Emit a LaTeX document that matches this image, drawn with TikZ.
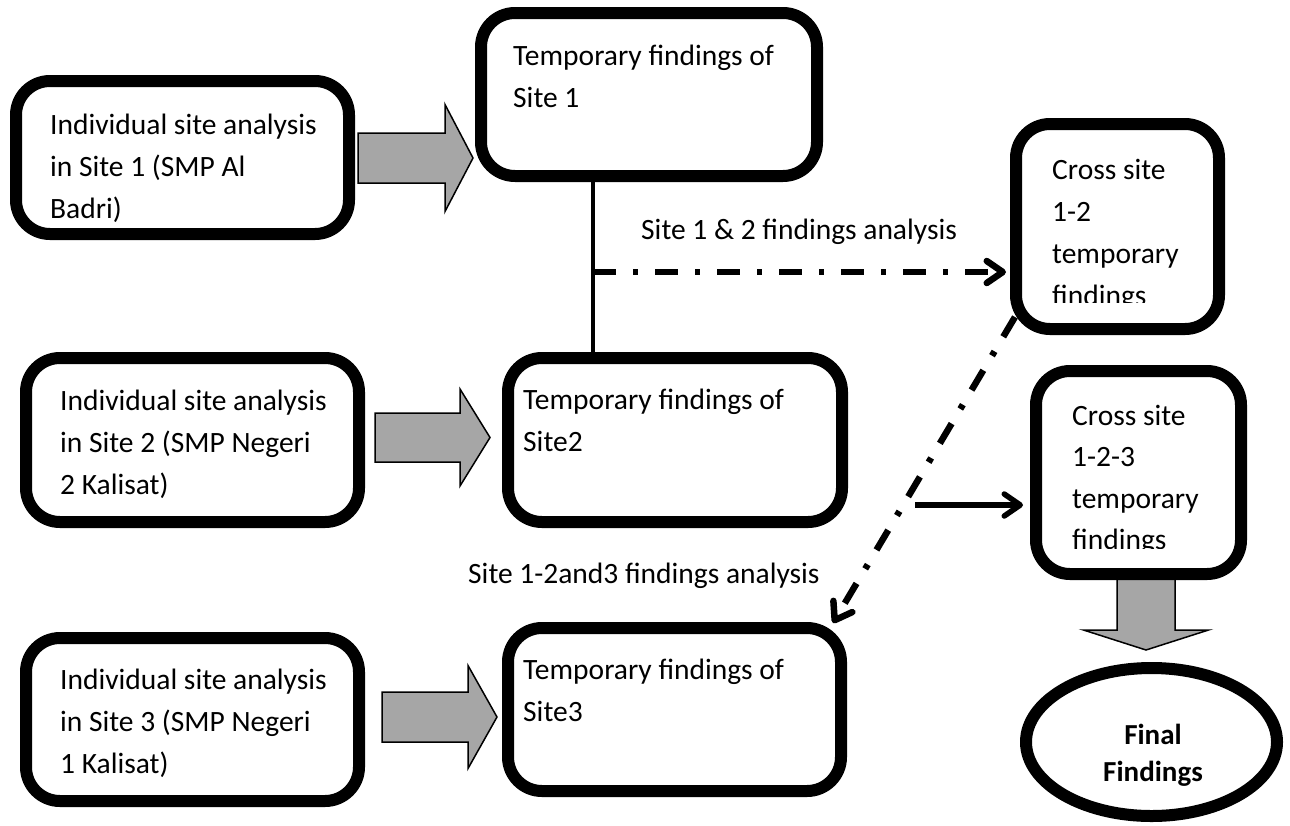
\documentclass[tikz,border=0pt]{standalone}
\usepackage{fontspec}
\setmainfont{Carlito}
\usetikzlibrary{calc,arrows.meta,shapes.geometric}
\definecolor{arrowgray}{HTML}{A6A6A6}
\tikzset{
 box/.style={draw, line width=12pt, rounded corners=34pt, fill=white, inner sep=0pt},
 txt/.style={anchor=north west, inner sep=0pt, align=left, font=\fontsize{29.5}{42}\selectfont},
 lbl/.style={anchor=base west, inner sep=0pt, font=\fontsize{29.5}{34}\selectfont},
 blockarrow/.style={draw=black, line width=1.5pt, fill=arrowgray, line join=miter},
 dashdot/.style={line width=6.5pt, dash pattern=on 23pt off 17pt on 5pt off 17pt},
 barb/.style={-{Straight Barb[length=16pt,width=22pt,round]}},
}
\newcommand\hblock[5]{%
  \draw[blockarrow] let \p1=(#1), \p2=(#2) in
   (\x1,{\y1+#3pt}) -- ({\x2-#5pt},{\y1+#3pt}) -- ({\x2-#5pt},{\y1+#4pt}) -- (\x2,\y1)
   -- ({\x2-#5pt},{\y1-#4pt}) -- ({\x2-#5pt},{\y1-#3pt}) -- (\x1,{\y1-#3pt}) -- cycle;}
\newcommand\vblock[5]{%
  \draw[blockarrow] let \p1=(#1), \p2=(#2) in
   ({\x1-#3pt},\y1) -- ({\x1-#3pt},{\y2+#5pt}) -- ({\x1-#4pt},{\y2+#5pt}) -- (\x1,\y2)
   -- ({\x1+#4pt},{\y2+#5pt}) -- ({\x1+#3pt},{\y2+#5pt}) -- ({\x1+#3pt},\y1) -- cycle;}
\begin{document}
\begin{tikzpicture}[x=1pt,y=-1pt]
\useasboundingbox (0,0) rectangle (1290,825);
% boxes
\node[box, minimum width=333pt, minimum height=153pt] (a1) at (182.5,157.5) {};
\node[box, minimum width=336pt, minimum height=163pt] (t1) at (649,94.5) {};
\node[box, minimum width=333pt, minimum height=164pt] (a2) at (192.5,440) {};
\node[box, minimum width=334pt, minimum height=164pt] (t2) at (675,440) {};
\node[box, minimum width=333pt, minimum height=163pt] (a3) at (192.5,719.5) {};
\node[box, minimum width=333pt, minimum height=163pt] (t3) at (674.5,709.5) {};
\node[box, minimum width=203pt, minimum height=205pt] (c12) at (1117.5,226.5) {};
% final ellipse and block arrow down (behind c123)
\node[ellipse, draw, line width=12pt, minimum width=251pt, minimum height=148pt, inner sep=0pt, fill=white] (fin) at (1151.5,742) {};
\coordinate (b4s) at (1146,576);
\coordinate (b4e) at ($(fin.north -| b4s)+(0,-12)$);
\vblock{b4s}{b4e}{29}{62.5}{20}
\node[box, minimum width=205pt, minimum height=203pt] (c123) at (1138.5,472.5) {};
% texts
\node[txt] (a1t) at (50,104) {\rule{0pt}{30pt}Individual site analysis\\in Site 1 (SMP Al\\Badri)};
\node[txt] (t1t) at (513,35) {\rule{0pt}{30pt}Temporary findings of\\Site 1};
\node[txt] (a2t) at (60,380) {\rule{0pt}{30pt}Individual site analysis\\in Site 2 (SMP Negeri\\2 Kalisat)};
\node[txt] (t2t) at (523,379) {\rule{0pt}{30pt}Temporary findings of\\Site2};
\node[txt] (a3t) at (60,659) {\rule{0pt}{30pt}Individual site analysis\\in Site 3 (SMP Negeri\\1 Kalisat)};
\node[txt] (t3t) at (523,649) {\rule{0pt}{30pt}Temporary findings of\\Site3};
\begin{scope}
 \clip (1030,130) rectangle (1220,302);
 \node[txt] (c12t) at (1052,149) {\rule{0pt}{30pt}Cross site\\1-2\\temporary\\findings};
\end{scope}
\begin{scope}
 \clip (1050,375) rectangle (1240,548);
 \node[txt, font=\fontsize{29.5}{41.5}\selectfont] (c123t) at (1072,395) {\rule{0pt}{30pt}Cross site\\1-2-3\\temporary\\findings};
\end{scope}
\node[font=\bfseries\fontsize{29}{37}\selectfont, align=center, inner sep=0pt] (fint) at (1153,755) {Final\\Findings};
% block arrows
\coordinate (b1s) at ($(a1.east)+(3,0.5)$);
\coordinate (b1e) at ($(b1s -| t1.west)+(-2,0)$);
\hblock{b1s}{b1e}{25}{53.5}{28}
\coordinate (b2s) at ($(a2.east)+(10,-2.5)$);
\coordinate (b2e) at ($(b2s -| t2.west)+(-12,0)$);
\hblock{b2s}{b2e}{24.5}{48.5}{30}
\coordinate (b3s) at ($(a3.east)+(17,-2.5)$);
\coordinate (b3e) at ($(b3s -| t3.west)+(-5,0)$);
\hblock{b3s}{b3e}{25}{51.5}{29}
% connectors
\coordinate (j) at (593,272);
\draw[line width=4.5pt] (t1.south -| j) -- (t2.north -| j);
\draw[dashdot, barb, shorten >=4pt] (j) -- (c12.west |- j);
\coordinate (d1) at ($(c12.south west)+(5,-18)$);
\coordinate (d2) at ($(t3.north east)+(-14,1)$);
\draw[dashdot, barb] (d1) -- (d2);
\coordinate (s4) at (915,505);
\draw[line width=5.5pt, barb, shorten >=7pt] (s4) -- (s4 -| c123.west);
% labels
\node[lbl] (l12) at (641,239) {Site 1 \& 2 findings analysis};
\node[lbl] (l123) at (468,583) {Site 1-2and3 findings analysis};
\end{tikzpicture}
\end{document}
